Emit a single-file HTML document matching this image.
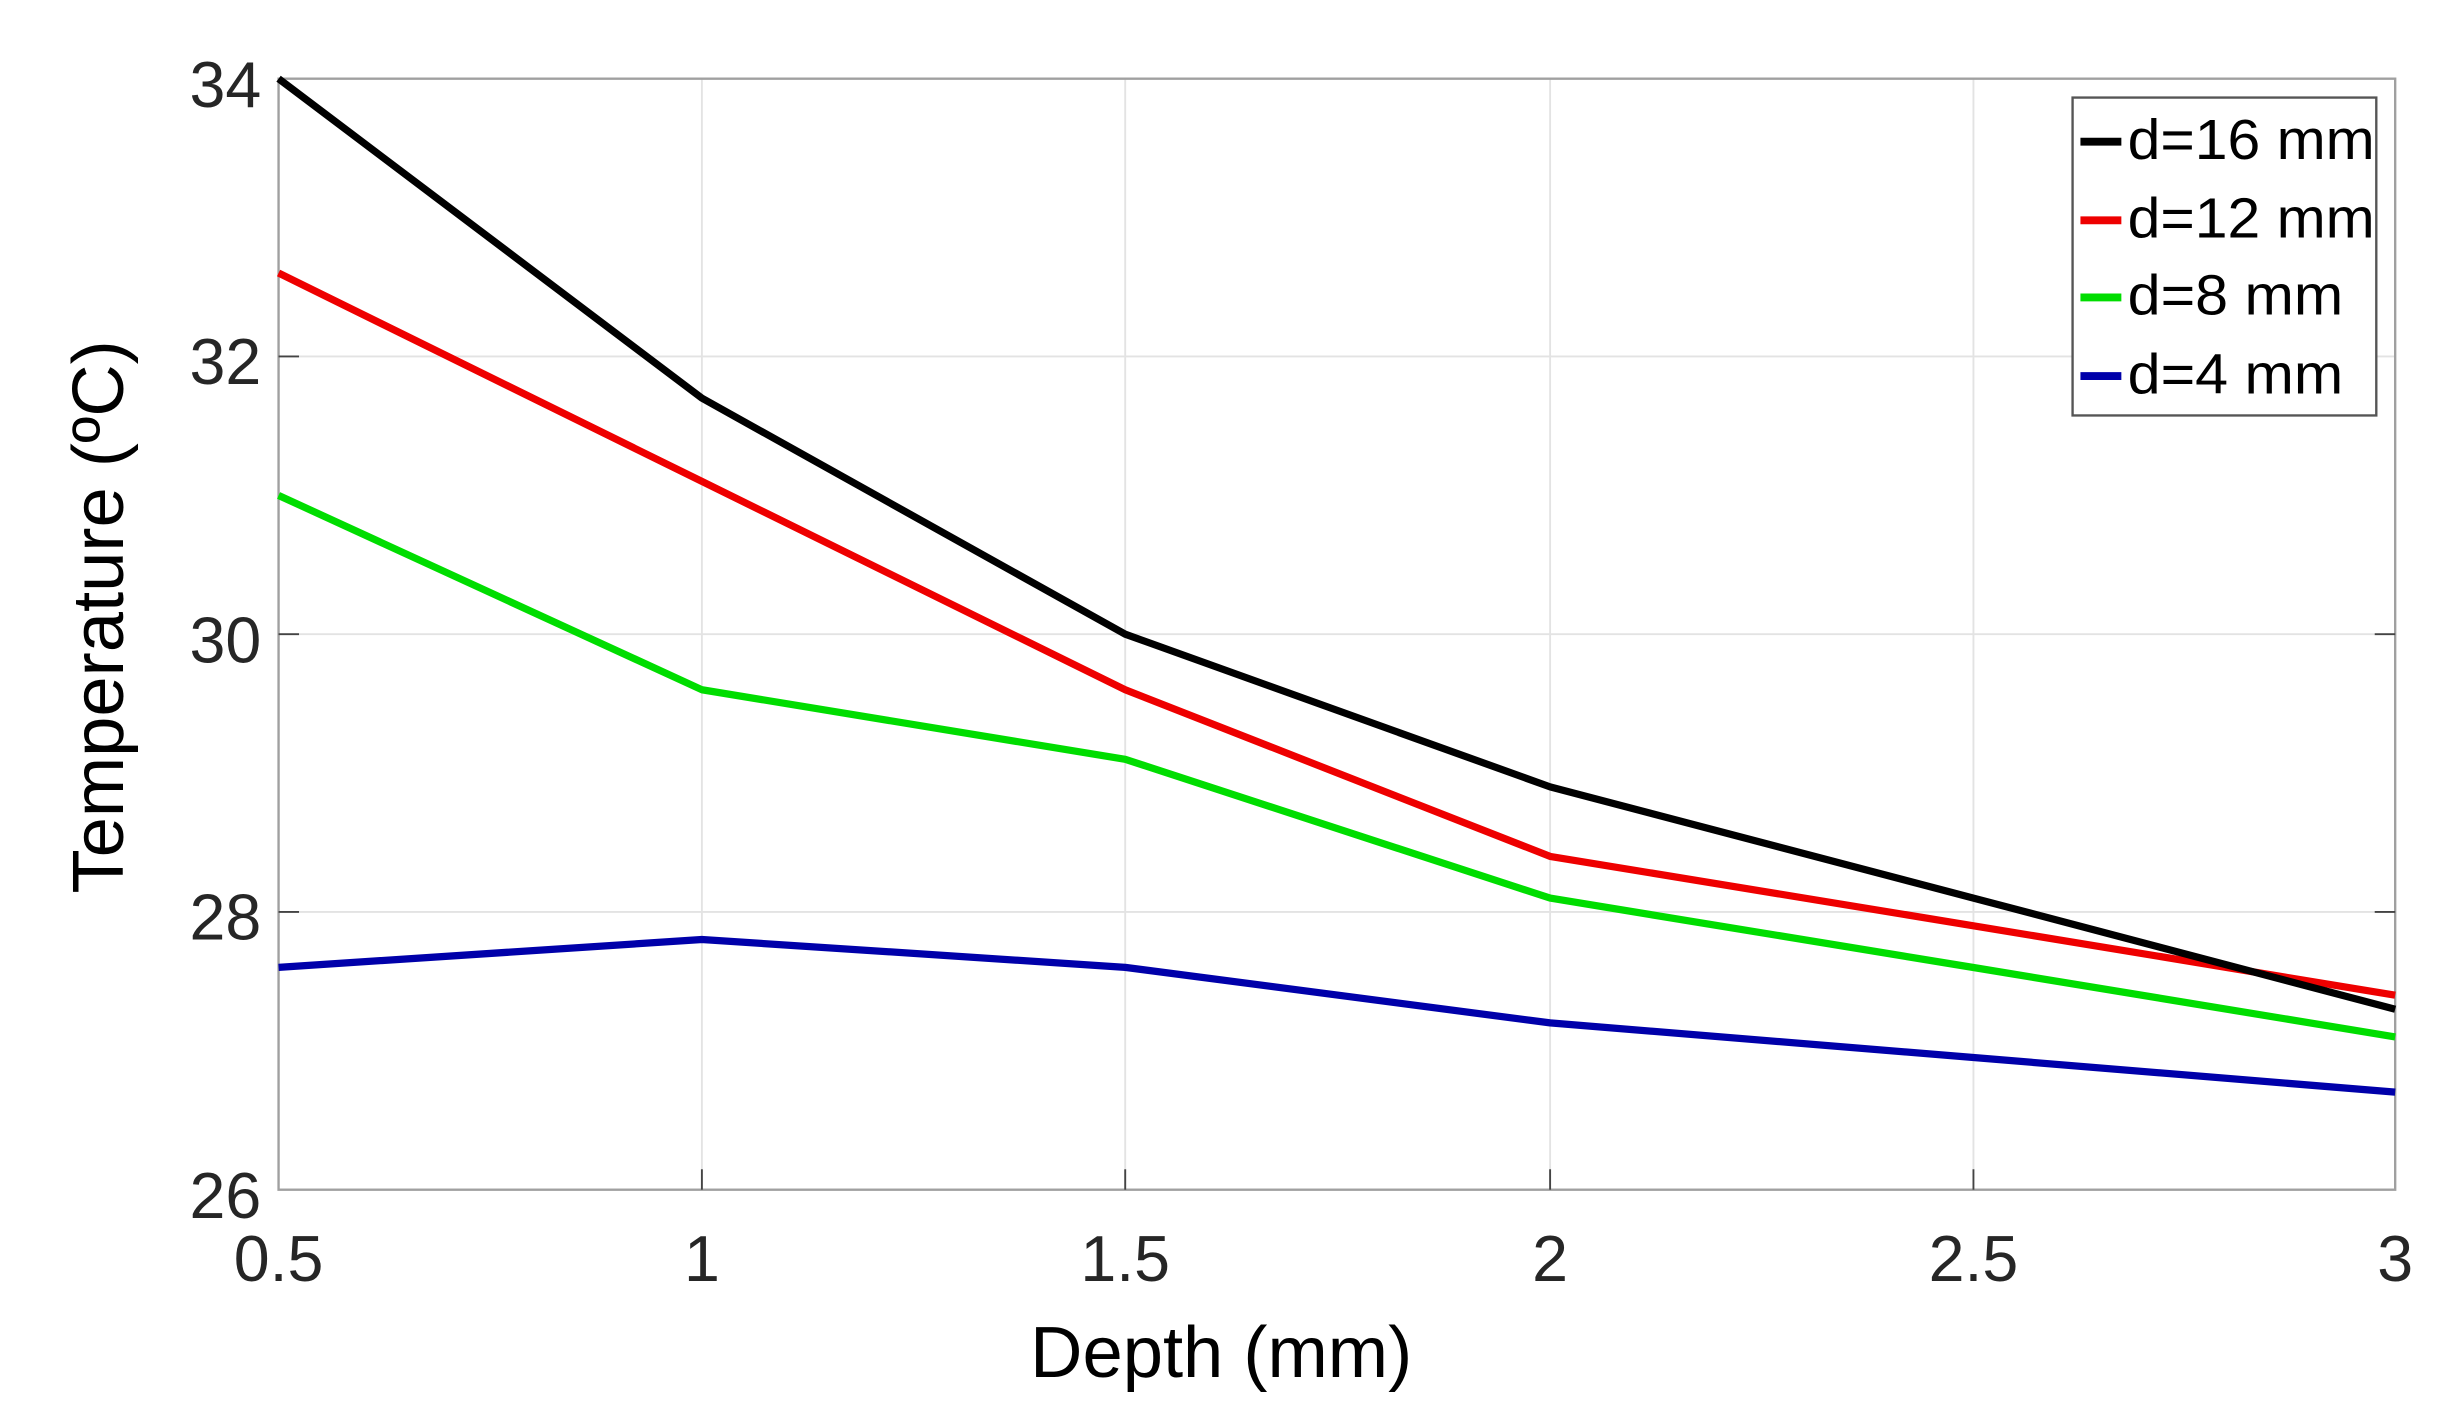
<!DOCTYPE html>
<html><head><meta charset="utf-8"><style>html,body{margin:0;padding:0;background:#fff}svg{display:block}</style></head>
<body>
<svg width="2455" height="1419" viewBox="0 0 1560 901.7" xmlns="http://www.w3.org/2000/svg">
<rect width="1560" height="901.7" fill="#fff"/>
<g stroke="#e3e3e3" stroke-width="1.2">
<line x1="446" y1="50" x2="446" y2="756"/><line x1="715" y1="50" x2="715" y2="756"/>
<line x1="985" y1="50" x2="985" y2="756"/><line x1="1254" y1="50" x2="1254" y2="756"/>
<line x1="177" y1="226.5" x2="1522" y2="226.5"/><line x1="177" y1="403" x2="1522" y2="403"/>
<line x1="177" y1="579.5" x2="1522" y2="579.5"/>
</g>
<rect x="177" y="50" width="1345" height="706" fill="none" stroke="#a0a0a0" stroke-width="1.5"/>
<g stroke="#444" stroke-width="1.2">
<line x1="446" y1="756" x2="446" y2="743"/><line x1="715" y1="756" x2="715" y2="743"/><line x1="985" y1="756" x2="985" y2="743"/><line x1="1254" y1="756" x2="1254" y2="743"/>
<line x1="177" y1="226.5" x2="190" y2="226.5"/><line x1="177" y1="403" x2="190" y2="403"/><line x1="177" y1="579.5" x2="190" y2="579.5"/>
<line x1="1522" y1="403" x2="1509" y2="403"/><line x1="1522" y1="579.5" x2="1509" y2="579.5"/>
</g>
<g fill="none" stroke-width="4.6" stroke-linejoin="round">
<polyline stroke="#0000aa" points="177,614.7 446,597 715,614.7 985,650 1254,672 1522,694"/>
<polyline stroke="#00dd00" points="177,314.8 446,438.3 715,482.5 985,570.7 1254,614.8 1522,658.9"/>
<polyline stroke="#ee0000" points="177,173.5 446,305.9 715,438.3 985,544.2 1254,588.3 1522,632.4"/>
<polyline stroke="#000" points="177,50 446,253 715,403 985,500 1254,570.7 1522,641.3"/>
</g>
<g font-family="Liberation Sans, sans-serif" font-size="41" fill="#262626">
<g text-anchor="end"><text x="166" y="68">34</text><text x="166" y="244">32</text><text x="166" y="421">30</text><text x="166" y="597">28</text><text x="166" y="774">26</text></g>
<g text-anchor="middle"><text x="177" y="814">0.5</text><text x="446" y="814">1</text><text x="715" y="814">1.5</text><text x="985" y="814">2</text><text x="1254" y="814">2.5</text><text x="1522" y="814">3</text></g>
</g>
<text x="776" y="875" text-anchor="middle" font-family="Liberation Sans, sans-serif" font-size="46" fill="#000">Depth (mm)</text>
<text transform="translate(78,392) rotate(-90)" text-anchor="middle" font-family="Liberation Sans, sans-serif" font-size="46" fill="#000">Temperature (ºC)</text>
<rect x="1317" y="62" width="193" height="202" fill="#fff" stroke="#555" stroke-width="1.5"/>
<g stroke-width="5"><line x1="1322" y1="90" x2="1348" y2="90" stroke="#000"/><line x1="1322" y1="140" x2="1348" y2="140" stroke="#ee0000"/><line x1="1322" y1="189" x2="1348" y2="189" stroke="#00dd00"/><line x1="1322" y1="239" x2="1348" y2="239" stroke="#0000aa"/></g>
<g font-family="Liberation Sans, sans-serif" font-size="36" fill="#000">
<text x="1352" y="101" textLength="157" lengthAdjust="spacingAndGlyphs">d=16 mm</text>
<text x="1352" y="151" textLength="157" lengthAdjust="spacingAndGlyphs">d=12 mm</text>
<text x="1352" y="200" textLength="137" lengthAdjust="spacingAndGlyphs">d=8 mm</text>
<text x="1352" y="250" textLength="137" lengthAdjust="spacingAndGlyphs">d=4 mm</text>
</g>
</svg>
</body></html>
